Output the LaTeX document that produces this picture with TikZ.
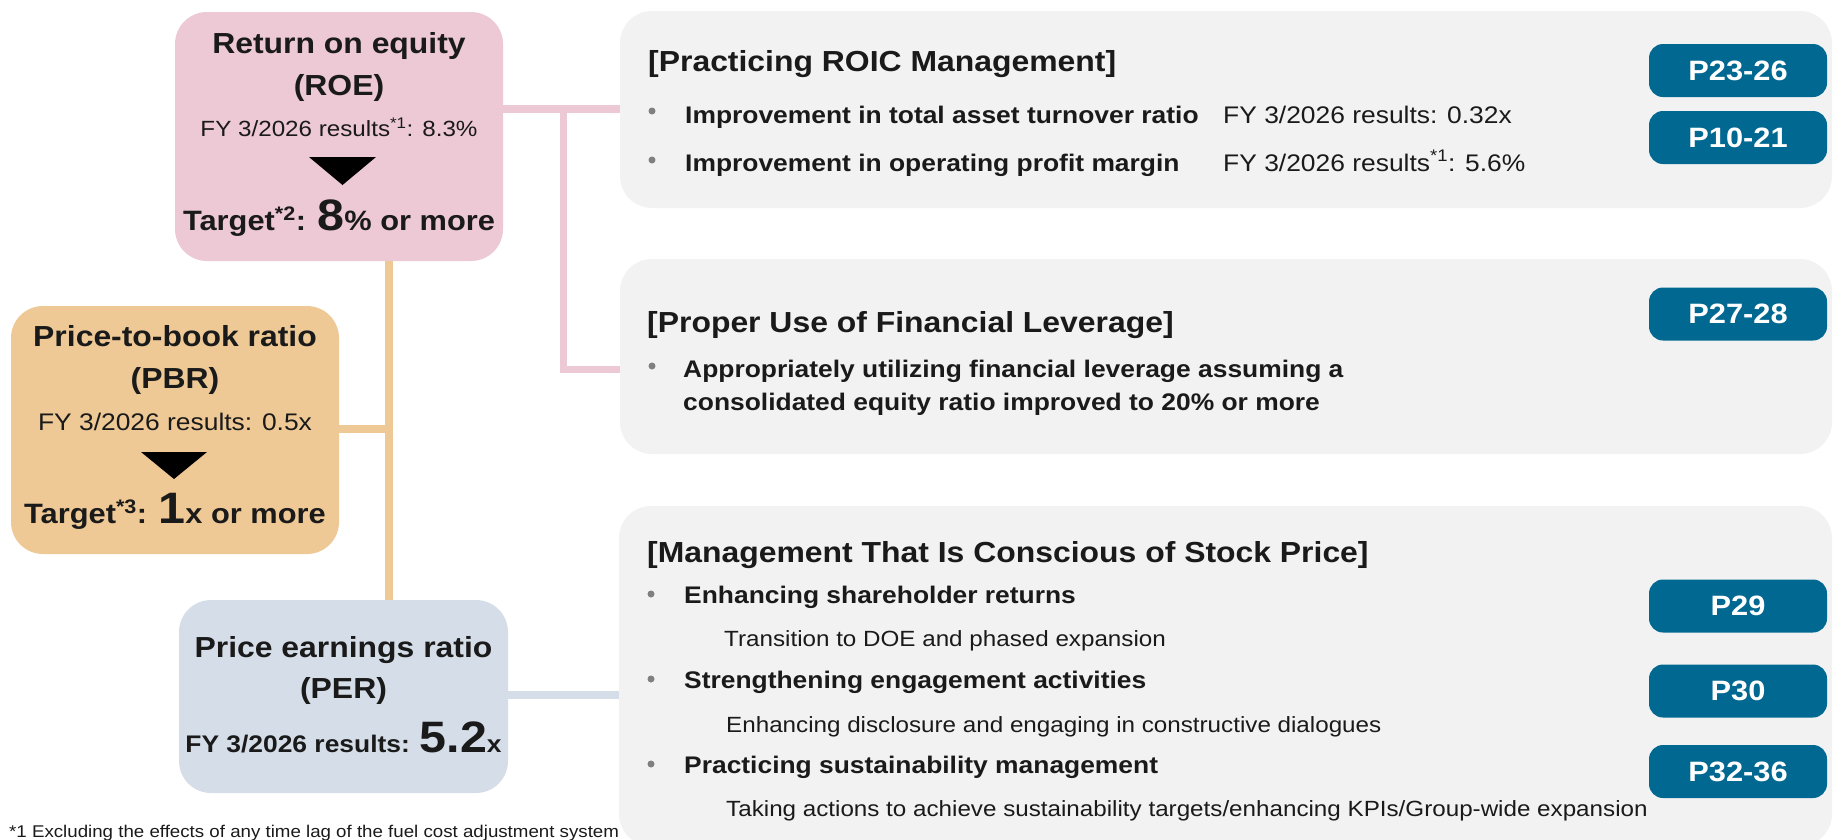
\documentclass[tikz,border=0pt]{standalone}
\usepackage{fontspec}
\setmainfont{Liberation Sans}[FakeStretch=1.1]
\definecolor{roepink}{RGB}{237,200,213}
\definecolor{pbrorange}{RGB}{238,201,150}
\definecolor{perblue}{RGB}{213,222,232}
\definecolor{panelgray}{RGB}{242,242,242}
\definecolor{badgeblue}{RGB}{0,104,145}
\definecolor{txt}{RGB}{26,26,26}
\definecolor{dotgray}{RGB}{128,128,128}
\newcommand{\fsz}[1]{\fontsize{#1}{#1}\selectfont}
\tikzset{
  kpibox/.style={rounded corners=32pt, inner sep=0pt, draw=none},
  panel/.style={fill=panelgray, rounded corners=32pt, inner sep=0pt, draw=none},
  badge/.style={fill=badgeblue, rounded corners=14pt, inner sep=0pt, minimum width=178pt, minimum height=53pt, text=white, font=\bfseries\fsz{28}},
  ktitle/.style={font=\bfseries\fsz{29}, text=txt, anchor=base, inner sep=0pt},
  knote/.style={font=\fsz{22}, text=txt, anchor=base, inner sep=0pt},
  ptitle/.style={font=\bfseries\fsz{29}, text=txt, anchor=base west, inner sep=0pt},
  pitem/.style={font=\bfseries\fsz{24}, text=txt, anchor=base west, inner sep=0pt},
  pres/.style={font=\fsz{24}, text=txt, anchor=base west, inner sep=0pt},
  psub/.style={font=\fsz{22}, text=txt, anchor=base west, inner sep=0pt},
  bdot/.style={circle, fill=dotgray, inner sep=0pt, minimum size=7pt},
  link/.style={line width=8pt},
}
\begin{document}
\begin{tikzpicture}[x=1pt,y=-1pt]
\useasboundingbox (0,0) rectangle (1833,839);
% boxes
\node[kpibox, fill=roepink, minimum width=328pt, minimum height=249pt] (roe) at (339,136.5) {};
\node[kpibox, fill=pbrorange, minimum width=328pt, minimum height=248pt] (pbr) at (175,430) {};
\node[kpibox, fill=perblue, minimum width=329pt, minimum height=193pt] (per) at (343.5,696.5) {};
\node[panel, minimum width=1212pt, minimum height=197pt] (roic) at (1226,109.5) {};
\node[panel, minimum width=1212pt, minimum height=195pt] (lev) at (1226,356.5) {};
\node[panel, minimum width=1213pt, minimum height=340pt] (stock) at (1225.5,676) {};
% connectors
\coordinate (pj) at (563.5,109);
\coordinate (pk) at (563.5,369);
\draw[link, roepink] (roe.east |- pj) -- (roic.west |- pj);
\draw[link, roepink, line width=7pt] (pj) -- (pk) -- (lev.west |- pk);
\coordinate (oj) at (389,429);
\draw[link, pbrorange] (roe.south -| oj) -- (per.north -| oj);
\draw[link, pbrorange] (pbr.east |- oj) -- (oj);
\coordinate (bj) at (560,695);
\draw[link, perblue] (per.east |- bj) -- (stock.west |- bj);
% ROE
\node[ktitle] (roe1) at (339,53) {Return on equity};
\node[ktitle] (roe2) at (339,95) {(ROE)};
\node[knote] (roe3) at (339,136) {FY 3/2026 results\textsuperscript{*1}: 8.3\%};
\fill (309,157) -- (376,157) -- (342.5,185) -- cycle;
\node[ktitle, font=\bfseries\fsz{28}] (roe4) at (339,230) {Target\textsuperscript{*2}: {\fsz{44}8}\% or more};
% PBR
\node[ktitle] (pbr1) at (175,346) {Price-to-book ratio};
\node[ktitle] (pbr2) at (175,388) {(PBR)};
\node[knote, font=\fsz{24}] (pbr3) at (175,430) {FY 3/2026 results: 0.5x};
\fill (141,452) -- (207,452) -- (174,479) -- cycle;
\node[ktitle, font=\bfseries\fsz{28}] (pbr4) at (175,523) {Target\textsuperscript{*3}: {\fsz{44}1}x or more};
% PER
\node[ktitle] (per1) at (343.5,657) {Price earnings ratio};
\node[ktitle] (per2) at (343.5,698) {(PER)};
\node[ktitle, font=\bfseries\fsz{24}] (per3) at (343.5,752) {FY 3/2026 results: {\fsz{44}5.2}x};
% panel 1
\node[ptitle] (t1) at (648,71) {[Practicing ROIC Management]};
\node[bdot] (d11) at (652,111) {};
\node[pitem] (i11) at (685,123) {Improvement in total asset turnover ratio};
\node[pres] (r11) at (1223,123) {FY 3/2026 results: 0.32x};
\node[bdot] (d12) at (652,160) {};
\node[pitem] (i12) at (685,171) {Improvement in operating profit margin};
\node[pres] (r12) at (1223,171) {FY 3/2026 results\textsuperscript{*1}: 5.6\%};
\node[badge] (b1) at (1738,70.5) {P23-26};
\node[badge] (b2) at (1738,137.5) {P10-21};
% panel 2
\node[ptitle] (t2) at (647,332) {[Proper Use of Financial Leverage]};
\node[bdot] (d21) at (652,366) {};
\node[pitem] (i21) at (683,377) {Appropriately utilizing financial leverage assuming a};
\node[pitem] (i22) at (683,410) {consolidated equity ratio improved to 20\% or more};
\node[badge] (b3) at (1738,314) {P27-28};
% panel 3
\node[ptitle] (t3) at (647,562) {[Management That Is Conscious of Stock Price]};
\node[bdot] (d31) at (651,594) {};
\node[pitem] (i31) at (684,603) {Enhancing shareholder returns};
\node[psub] (s31) at (724,646) {Transition to DOE and phased expansion};
\node[bdot] (d32) at (651,679) {};
\node[pitem] (i32) at (684,688) {Strengthening engagement activities};
\node[psub] (s32) at (726,732) {Enhancing disclosure and engaging in constructive dialogues};
\node[bdot] (d33) at (651,764) {};
\node[pitem] (i33) at (684,773) {Practicing sustainability management};
\node[psub] (s33) at (726,816) {Taking actions to achieve sustainability targets/enhancing KPIs/Group-wide expansion};
\node[badge] (b4) at (1738,606) {P29};
\node[badge] (b5) at (1738,691) {P30};
\node[badge] (b6) at (1738,771.5) {P32-36};
% footnote
\node[font=\fsz{17}, text=txt, anchor=base west, inner sep=0pt] (fn) at (9,837) {*1 Excluding the effects of any time lag of the fuel cost adjustment system};
\end{tikzpicture}
\end{document}
